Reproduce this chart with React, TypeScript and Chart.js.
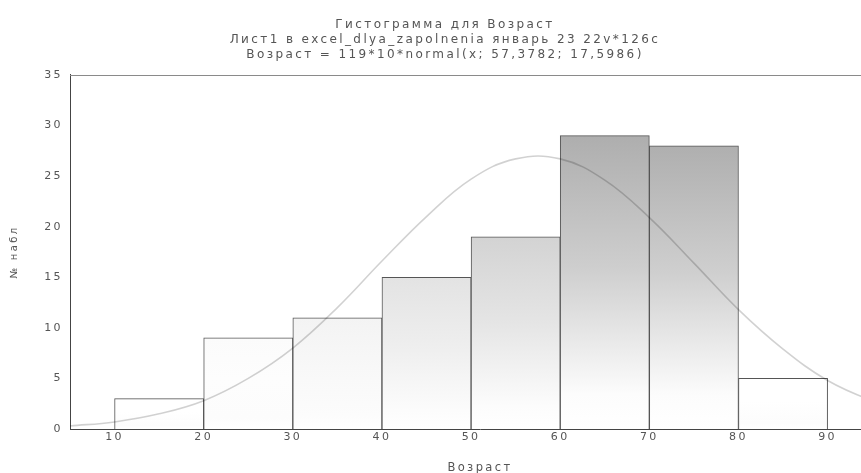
import React, { useEffect, useRef } from "react";
import { Chart, registerables } from "chart.js";

Chart.register(...registerables);

const titleLines = [
  "Гистограмма для Возраст",
  "Лист1 в excel_dlya_zapolnenia январь 23 22v*126c",
  "Возраст = 119*10*normal(x; 57,3782; 17,5986)",
];
const xTitle = "Возраст";
const yTitle = "№ набл";

// histogram bins (centres) and counts
const binCenters = [15, 25, 35, 45, 55, 65, 75, 85];
const binCounts = [3, 9, 11, 15, 19, 29, 28, 5];

// fitted curve
const curveX = [5, 10, 15, 20, 25, 30, 35, 40, 45, 50, 55, 60, 65, 70, 75, 80, 85, 90, 95, 100];
const curveY = [0.3, 0.7, 1.5, 2.8, 5, 8, 12, 16.6, 21, 24.7, 26.7, 26.7, 24.6, 20.9, 16.4, 11.8, 7.9, 4.8, 2.8, 1.4];

const xTicks = [10, 20, 30, 40, 50, 60, 70, 80, 90];
const yTicks = [0, 5, 10, 15, 20, 25, 30, 35];

const FONT = "'DejaVu Sans', Verdana, sans-serif";
const SPACING = "2.4px";

function barFill(ctx: any) {
  const chart = ctx.chart;
  const area = chart.chartArea;
  const ys = chart.scales?.y;
  const v = ctx.raw && typeof ctx.raw === "object" ? ctx.raw.y : 0;
  if (!area || !ys) return "#ffffff";
  const top = ys.getPixelForValue(v);
  const base = ys.getPixelForValue(0);
  const lvl = Math.max(174, Math.min(255, Math.round(255 - 4 * (v - 8))));
  const g = chart.ctx.createLinearGradient(0, top, 0, base);
  g.addColorStop(0, `rgb(${lvl},${lvl},${lvl})`);
  const mid = Math.round(lvl + (255 - lvl) * 0.4);
  g.addColorStop(0.45, `rgb(${mid},${mid},${mid})`);
  g.addColorStop(0.88, "rgb(252,252,252)");
  g.addColorStop(1, "rgb(255,255,255)");
  return g;
}

const spacingPlugin = {
  id: "spacing",
  beforeUpdate(chart: any) {
    chart.ctx.letterSpacing = SPACING;
  },
  beforeLayout(chart: any) {
    chart.ctx.letterSpacing = SPACING;
  },
  beforeDraw(chart: any) {
    chart.ctx.letterSpacing = SPACING;
  },
};

const topBorder = {
  id: "topBorder",
  afterDraw(chart: any) {
    const { ctx, chartArea } = chart;
    ctx.save();
    ctx.strokeStyle = "#8a8a8a";
    ctx.lineWidth = 1;
    ctx.beginPath();
    ctx.moveTo(chartArea.left, Math.round(chartArea.top) + 0.5);
    ctx.lineTo(chartArea.right, Math.round(chartArea.top) + 0.5);
    ctx.stroke();
    ctx.restore();
  },
};

export default function App() {
  const ref = useRef<HTMLCanvasElement>(null);
  useEffect(() => {
    const canvas = ref.current as HTMLCanvasElement;
    const c2d = canvas.getContext("2d") as any;
    if (c2d) c2d.letterSpacing = SPACING;
    const chart = new Chart(canvas, {
      type: "bar",
      data: {
        datasets: [
          {
            type: "line",
            data: curveX.map((x, i) => ({ x, y: curveY[i] })),
            borderColor: "rgba(0,0,0,0.18)",
            borderWidth: 1.6,
            pointRadius: 0,
            tension: 0.4,
            order: 0,
          } as any,
          {
            type: "bar",
            data: binCenters.map((x, i) => ({ x, y: binCounts[i] })),
            backgroundColor: barFill,
            borderColor: "#555555",
            borderWidth: 1,
            barPercentage: 1,
            categoryPercentage: 1,
            order: 1,
          } as any,
        ],
      },
      options: {
        animation: false,
        responsive: true,
        maintainAspectRatio: false,
        layout: { padding: { left: 0, right: 4, top: 0, bottom: 0 } },
        plugins: {
          legend: { display: false },
          tooltip: { enabled: false },
          title: {
            display: true,
            text: titleLines,
            color: "#555555",
            font: { family: FONT, size: 12, weight: "normal", lineHeight: 1.22 },
            padding: { top: 18, bottom: 13 },
          },
        },
        scales: {
          x: {
            type: "linear",
            min: 5,
            max: 97,
            offset: false,
            afterBuildTicks: (s: any) => {
              s.ticks = xTicks.map((v) => ({ value: v }));
            },
            afterFit: (s: any) => {
              s.height = 44;
            },
            grid: { display: false, drawTicks: false, offset: false },
            border: { color: "#444444", width: 1 },
            ticks: {
              color: "#555555",
              padding: 2,
              font: { family: FONT, size: 11 },
              autoSkip: false,
              maxRotation: 0,
            },
            title: {
              display: true,
              text: xTitle,
              color: "#555555",
              font: { family: FONT, size: 11.5, lineHeight: 0.8 },
              padding: { top: 0, bottom: 0 },
            },
          },
          y: {
            type: "linear",
            min: 0,
            max: 35,
            afterBuildTicks: (s: any) => {
              s.ticks = yTicks.map((v) => ({ value: v }));
            },
            afterFit: (s: any) => {
              s.width = 70;
            },
            grid: { display: false, drawTicks: false },
            border: { color: "#444444", width: 1 },
            ticks: {
              color: "#555555",
              padding: 7,
              font: { family: FONT, size: 11 },
            },
            title: {
              display: true,
              text: yTitle,
              color: "#555555",
              font: { family: FONT, size: 10 },
              padding: { top: 8, bottom: 0 },
            },
          },
        },
      },
      plugins: [spacingPlugin, topBorder],
    });
    return () => chart.destroy();
  }, []);

  return (
    <div
      style={{
        position: "absolute",
        left: 0,
        top: 0,
        width: 861,
        height: 473,
        overflow: "hidden",
        background: "#ffffff",
      }}
    >
      <div style={{ position: "relative", width: 894, height: 473 }}>
        <canvas ref={ref} />
      </div>
    </div>
  );
}
